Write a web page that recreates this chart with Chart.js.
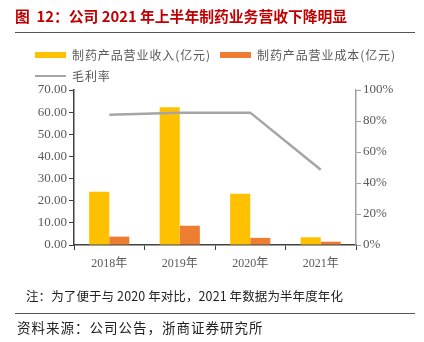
<!DOCTYPE html>
<html><head><meta charset="utf-8">
<script src="https://cdn.jsdelivr.net/npm/chart.js@4"></script>
<style>
html,body{margin:0;padding:0;background:#fff;}
#wrap{position:relative;width:424px;height:342px;overflow:hidden;font-family:"Noto Sans CJK SC","Noto Sans",sans-serif;}
canvas{position:absolute;left:0;top:0;}
.abs{position:absolute;white-space:nowrap;}
#title{left:15px;top:6px;font-size:14.8px;font-weight:bold;color:#C00000;line-height:20px;}
.rule{position:absolute;left:15px;width:400px;height:1px;background:#555;}
.leg{font-size:12px;color:#595959;line-height:16px;letter-spacing:0.9px;}
.sw{position:absolute;width:31px;height:6px;}
#note{left:26px;top:287px;font-size:12.5px;color:#222;line-height:18px;letter-spacing:0.1px;}
#src{left:17px;top:318px;font-size:13.5px;color:#222;line-height:18px;letter-spacing:1px;}
</style></head>
<body><div id="wrap">
<canvas id="c" width="424" height="342"></canvas>
<div class="abs" id="title">图&nbsp;&nbsp;12：公司 2021 年上半年制药业务营收下降明显</div>
<div class="rule" style="top:32px;"></div>
<div class="sw" style="left:35px;top:52px;background:#FFC000;"></div>
<div class="abs leg" style="left:72px;top:47px;">制药产品营业收入(亿元)</div>
<div class="sw" style="left:220px;top:52px;background:#ED7D31;"></div>
<div class="abs leg" style="left:257px;top:47px;">制药产品营业成本(亿元)</div>
<div class="sw" style="left:35px;top:75px;height:2px;background:#A5A5A5;"></div>
<div class="abs leg" style="left:72px;top:68px;">毛利率</div>
<div class="abs" id="note">注：为了便于与 2020 年对比，2021 年数据为半年度年化</div>
<div class="rule" style="top:313px;"></div>
<div class="abs" id="src">资料来源：公司公告，浙商证券研究所</div>
</div>
<script>
const categories = ["2018年","2019年","2020年","2021年"];
const revenue = [24.1, 62.2, 23.2, 3.5];
const cost = [3.8, 8.7, 3.2, 1.5];
const grossMargin = [84.0, 85.4, 85.4, 48.6];
const leftTicks = [0,10,20,30,40,50,60,70];
const rightTicks = [0,20,40,60,80,100];

const serif = "'Liberation Serif','Noto Sans CJK SC',serif";
new Chart(document.getElementById('c'), {
  data: {
    labels: categories,
    datasets: [
      {type:'line', label:'毛利率', data:grossMargin, yAxisID:'y1', borderColor:'#A5A5A5', borderWidth:2.5, pointRadius:0, order:0, tension:0},
      {type:'bar', label:'制药产品营业收入(亿元)', data:revenue, yAxisID:'y', backgroundColor:'#FFC000', categoryPercentage:0.57, barPercentage:1, order:1},
      {type:'bar', label:'制药产品营业成本(亿元)', data:cost, yAxisID:'y', backgroundColor:'#ED7D31', categoryPercentage:0.57, barPercentage:1, order:1}
    ]
  },
  options: {
    responsive:false, animation:false, devicePixelRatio:1,
    layout:{padding:{top:90,bottom:67,left:0,right:0}},
    plugins:{legend:{display:false}, tooltip:{enabled:false}},
    scales:{
      x:{
        grid:{drawOnChartArea:false, drawTicks:true, tickLength:5, color:'#404040', offset:true},
        border:{color:'#404040', width:1.5},
        ticks:{color:'#595959', font:{family:serif,size:12}, padding:7, maxRotation:0},
        afterFit(s){ s.height = 30; }
      },
      y:{
        position:'left', min:0, max:70,
        afterBuildTicks(s){ s.ticks = leftTicks.map(v=>({value:v})); },
        grid:{drawOnChartArea:false, drawTicks:true, tickLength:5, color:'#404040'},
        border:{color:'#404040', width:1.5},
        ticks:{color:'#595959', font:{family:serif,size:13}, padding:2, callback:v=>v.toFixed(2)},
        afterFit(s){ s.width = 74; }
      },
      y1:{
        position:'right', min:0, max:100,
        afterBuildTicks(s){ s.ticks = rightTicks.map(v=>({value:v})); },
        grid:{drawOnChartArea:false, drawTicks:true, tickLength:5, color:'#A0A0A0'},
        border:{color:'#A0A0A0', width:1.5},
        ticks:{color:'#595959', font:{family:serif,size:13}, padding:2, callback:v=>v+'%'},
        afterFit(s){ s.width = 68; }
      }
    }
  }
});
</script>
</body></html>
